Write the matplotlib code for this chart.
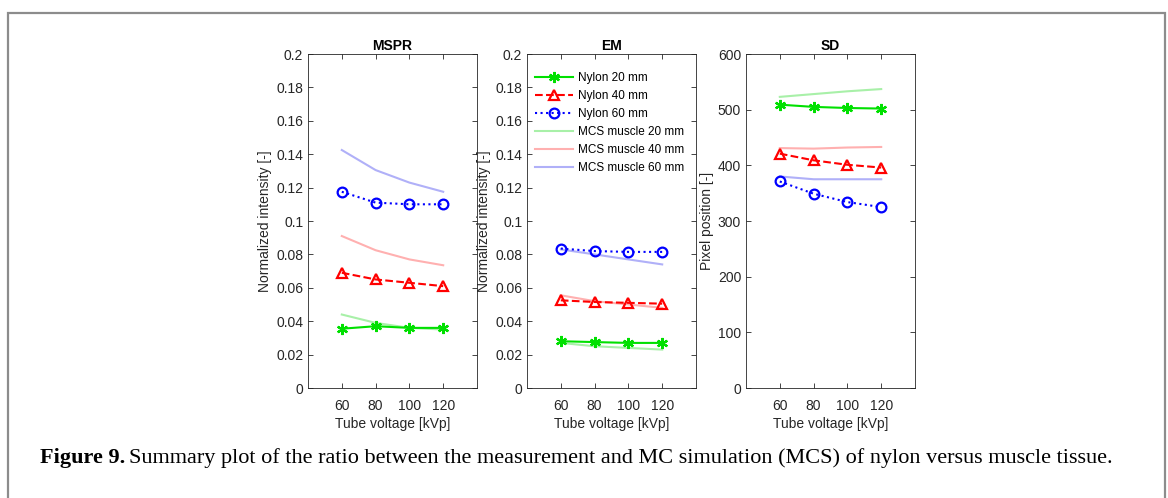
import matplotlib.pyplot as plt # plotting library
from matplotlib.patches import Rectangle # frame around figure

voltage = [60, 80, 100, 120] # tube voltage [kVp]

mspr_nylon_20 = [0.0355, 0.037, 0.036, 0.036]
mspr_nylon_40 = [0.069, 0.065, 0.063, 0.061]
mspr_nylon_60 = [0.1175, 0.111, 0.110, 0.110]
mspr_mcs_20 = [0.044, 0.039, 0.036, 0.035]
mspr_mcs_40 = [0.091, 0.0825, 0.077, 0.0735]
mspr_mcs_60 = [0.1425, 0.1305, 0.123, 0.1175]

em_nylon_20 = [0.028, 0.0275, 0.027, 0.027]
em_nylon_40 = [0.0525, 0.0515, 0.051, 0.0505]
em_nylon_60 = [0.0835, 0.082, 0.0815, 0.0815]
em_mcs_20 = [0.027, 0.025, 0.024, 0.023]
em_mcs_40 = [0.0555, 0.052, 0.050, 0.048]
em_mcs_60 = [0.083, 0.080, 0.077, 0.074]

sd_nylon_20 = [509, 505, 503, 502]
sd_nylon_40 = [421, 409, 401, 396]
sd_nylon_60 = [371, 349, 334, 325]
sd_mcs_20 = [523, 528, 533, 537]
sd_mcs_40 = [431, 430, 432, 433]
sd_mcs_60 = [380, 375, 375, 375]

plt.rcParams['font.family'] = ['Liberation Sans', 'DejaVu Sans']

fig = plt.figure(figsize=(11.68, 4.98), dpi=100)
fig.patches.append(Rectangle((8/1168, -0.1), 1157/1168, 1.1 - 13/498, transform=fig.transFigure,
                             fill=False, edgecolor='#8c8c8c', linewidth=1.6))

panels = [
    ('MSPR', 308, [mspr_nylon_20, mspr_nylon_40, mspr_nylon_60], [mspr_mcs_20, mspr_mcs_40, mspr_mcs_60],
     (0, 0.2), [0, 0.02, 0.04, 0.06, 0.08, 0.1, 0.12, 0.14, 0.16, 0.18, 0.2], 'Normalized intensity [-]'),
    ('EM', 527, [em_nylon_20, em_nylon_40, em_nylon_60], [em_mcs_20, em_mcs_40, em_mcs_60],
     (0, 0.2), [0, 0.02, 0.04, 0.06, 0.08, 0.1, 0.12, 0.14, 0.16, 0.18, 0.2], 'Normalized intensity [-]'),
    ('SD', 746, [sd_nylon_20, sd_nylon_40, sd_nylon_60], [sd_mcs_20, sd_mcs_40, sd_mcs_60],
     (0, 600), [0, 100, 200, 300, 400, 500, 600], 'Pixel position [-]'),
]

colors = ['#00e000', '#ff0000', '#0000ff'] # nylon line colours
light = ['#a8f0a8', '#ffb0b0', '#b0b0f8'] # MCS line colours
styles = ['-', '--', ':']
markers = [(6, 2, 0), '^', 'o'] # asterisk, triangle, circle
sizes = ['20', '40', '60']

for title, left_px, nylon, mcs, ylim, yticks, ylabel in panels:
    ax = fig.add_axes([left_px/1168, 1 - 388/498, 169/1168, 334/498])
    for i in range(3):
        ax.plot(voltage, nylon[i], color=colors[i], linestyle=styles[i], linewidth=1.5,
                marker=markers[i], markersize=8 if i == 0 else 7, markerfacecolor='none', markeredgewidth=1.6,
                label='Nylon ' + sizes[i] + ' mm', zorder=3)
    for i in range(3):
        ax.plot(voltage, mcs[i], color=light[i], linewidth=1.5,
                label='MCS muscle ' + sizes[i] + ' mm', zorder=2)
    ax.set_xlim(40, 140)
    ax.set_ylim(*ylim)
    ax.set_xticks(voltage)
    ax.set_yticks(yticks)
    ax.set_yticklabels([('%g' % t) for t in yticks])
    ax.tick_params(direction='in', top=True, right=True, labelsize=10, length=3.5, colors='#262626',
                   labelcolor='#262626', width=0.6)
    ax.tick_params(axis='x', pad=8)
    for s in ax.spines.values():
        s.set_color('#262626')
        s.set_linewidth(0.6)
    ax.set_title(title, fontsize=10, fontweight='bold', pad=3)
    ax.set_xlabel('Tube voltage [kVp]', fontsize=10, color='#262626', labelpad=3)
    ax.set_ylabel(ylabel, fontsize=10, color='#262626', labelpad=3)
    if title == 'EM':
        ax.legend(loc='upper left', frameon=False, fontsize=8.5, handlelength=3.2,
                  labelspacing=0.5, borderaxespad=0.3, handletextpad=0.4, bbox_to_anchor=(0.0, 0.97))

# caption: bold label then plain text placed after it
label = fig.text(40/1168, 1 - 458/498, 'Figure 9.', fontsize=16, family='Liberation Serif',
                 fontweight='bold', va='center')
fig.canvas.draw()
bb = label.get_window_extent()
fig.text((bb.x1 + 4)/1168, 1 - 458/498,
         'Summary plot of the ratio between the measurement and MC simulation (MCS) of nylon versus muscle tissue.',
         fontsize=16, family='Liberation Serif', va='center')

plt.savefig('out.png', dpi=100) # save output
